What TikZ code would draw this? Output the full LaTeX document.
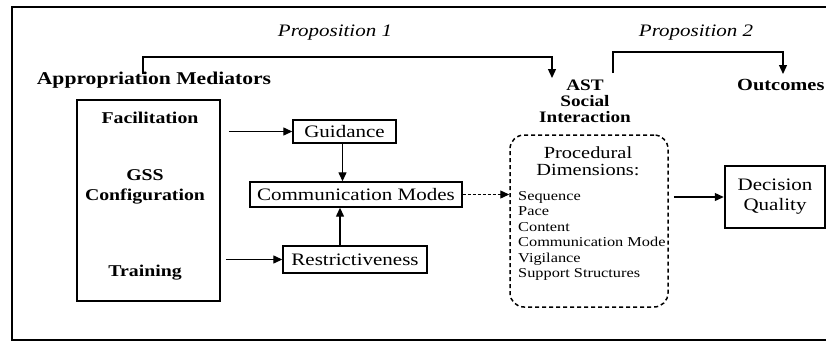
\documentclass[tikz,border=0pt]{standalone}
\usepackage{fontspec}
\setmainfont[FakeStretch=1.2]{Liberation Serif}
\usetikzlibrary{arrows.meta}
\tikzset{
  txt/.style={inner sep=0pt, font=\fontsize{17.5}{20}\selectfont},
  btxt/.style={inner sep=0pt, font=\fontsize{16.5}{20}\selectfont\bfseries},
  itxt/.style={inner sep=0pt, font=\fontsize{17.5}{20}\selectfont\itshape},
  box/.style={draw, line width=1.4pt, inner sep=0pt, txt},
  arr/.style={line width=1.3pt, -{Triangle[length=9pt,width=8pt]}},
  dasharr/.style={arr, dash pattern=on 3pt off 2pt},
  procbox/.style={draw, line width=1.5pt, dash pattern=on 4pt off 3pt, rounded corners=14pt}
}
\begin{document}
\begin{tikzpicture}[x=1pt,y=-1pt]
\useasboundingbox (0,0) rectangle (826,343);
% outer frame
\draw[line width=1.8pt] (832,7) -- (12,7) -- (12,340) -- (832,340);

% headings
\node[itxt] (prop1) at (335,33) {Proposition 1};
\node[itxt] (prop2) at (696,33) {Proposition 2};
\node[inner sep=0pt, font=\fontsize{18}{20}\selectfont\bfseries] (appmed) at (154,80) {Appropriation Mediators};
\node[inner sep=0pt, align=center, font=\fontsize{16}{16}\selectfont\bfseries] (ast) at (585,101) {AST\\Social\\Interaction};
\node[inner sep=0pt, anchor=west, font=\fontsize{17}{20}\selectfont\bfseries] (outc) at (737,85) {Outcomes};

% proposition brackets
\coordinate (b1s) at (143,74);
\coordinate (b1e) at (552,78);
\draw[arr] (b1s) -- ++(0,-17) -| (b1e);
\coordinate (b2s) at (613,73);
\coordinate (b2e) at (783,74);
\draw[arr] (b2s) -- ++(0,-21) -| (b2e);

% appropriation mediators
\node[draw, line width=1.5pt, minimum width=143pt, minimum height=201pt, inner sep=0pt] (med) at (148.5,200.5) {};
\node[btxt] (fac) at (150,118) {Facilitation};
\node[btxt, align=center] (gss) at (145,187) {GSS\\Configuration};
\node[btxt] (trn) at (145,273) {Training};

% intermediate constructs
\node[box, minimum width=103pt, minimum height=23pt] (guid) at (344.5,131.5) {Guidance};
\node[box, minimum width=212pt, minimum height=25pt] (comm) at (356,194.5) {Communication Modes};
\node[box, minimum width=144pt, minimum height=27pt] (restr) at (355,259.5) {Restrictiveness};

% procedural dimensions
\node[procbox, minimum width=158pt, minimum height=172pt] (proc) at (589,221) {};
\node[inner sep=0pt, align=center, font=\fontsize{17}{17}\selectfont] (phead) at (588,161) {Procedural\\Dimensions:};
\node[inner sep=0pt, anchor=west, align=left, font=\fontsize{13.6}{15.4}\selectfont] (items) at (518,236)
  {Sequence\\Pace\\Content\\Communication Mode\\Vigilance\\Support Structures};

% outcome
\node[box, line width=2.5pt, minimum width=100pt, minimum height=62pt, align=center] (dq) at (775,197) {Decision\\Quality};

% connectors
\draw[arr] ([xshift=8pt]med.east |- guid.west) -- (guid.west);
\draw[arr] ([xshift=5pt]med.east |- restr.west) -- (restr.west);
\draw[arr] ([xshift=-2pt]guid.south) -- ([xshift=-2pt]guid.south |- comm.north);
\draw[arr] ([xshift=-15pt]restr.north) -- ([xshift=-15pt]restr.north |- comm.south);
\draw[dasharr] (comm.east) -- (comm.east -| proc.west);
\draw[arr] ([xshift=5pt]proc.east |- dq.west) -- (dq.west);
\end{tikzpicture}
\end{document}
